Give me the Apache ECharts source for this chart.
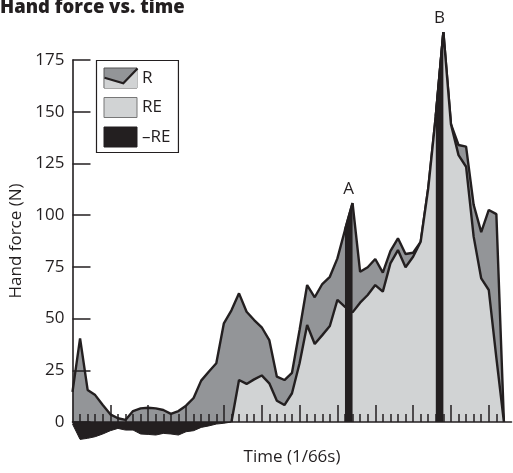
<!DOCTYPE html>
<html><head><meta charset="utf-8">
<script src="https://cdn.jsdelivr.net/npm/echarts@6/dist/echarts.min.js"></script>
<style>html,body{margin:0;padding:0;background:#fff}#c{width:513px;height:473px}</style>
</head><body><div id="c"></div>
<script>
// Time step index = array position (units of 1/66 s)
const R = [14.6, 40.4, 15.5, 13, 8.2, 3.7, 1.8, 1, 5.3, 6.6, 6.9, 6.6, 5.8, 3.9, 5.3, 7.9, 11.6, 20, 24.3, 28.4,
  47.7, 54, 62.2, 53.3, 49.3, 45.8, 39.6, 21.9, 20.3, 23.8, 44.5, 66.2, 60.3, 66.7, 70.2, 79.1, 92.8, 105.8, 72.6, 74.8,
  78.8, 72.2, 82.6, 88.8, 81.2, 81.8, 87.1, 113, 148, 188.5, 144, 133.9, 133.1, 105, 91.8, 102.5, 100.5, 0];
const RE = [null, null, null, null, null, null, null, null, null, null, null, null, null, null, null, null, null, null, null, null,
  null, 0, 20.3, 18.4, 20.6, 22.5, 18.7, 10.3, 8.2, 13.9, 28.4, 46.9, 37.7, 42, 46.4, 59, 55.7, 53, 57.7, 61.4,
  66.2, 63, 76.7, 83.1, 74.8, 79.9, 87.1, 113, 148, 188.5, 144, 129, 123.4, 89.6, 69.4, 63.8, 31, 0];
const negRE = [-1, -8.4, -7.9, -7.1, -5.8, -4.2, -3.1, -3.9, -3.9, -5.8, -6, -6.3, -5.5, -5.8, -6.3, -4.7, -4.2, -2.6, -1.9, -1,
  -0.6, 0];
const yTicks = [0, 25, 50, 75, 100, 125, 150, 175];
const majorTicks = [5, 10, 15, 20, 25, 30, 35, 40, 45, 50, 55];
const minorTicks = [1, 2, 3, 4, 6, 7, 8, 9, 11, 12, 13, 14, 16, 17, 18, 19, 21, 22, 23, 24, 26, 27, 28, 29,
  31, 32, 33, 34, 36, 37, 38, 39, 41, 42, 43, 44, 46, 47, 48, 49, 51, 52, 53, 54, 56];
const markerNames = ['A', 'B'];
const markerStarts = [36, 48];
const seriesNames = ['R', 'RE', '–RE'];

const INK = '#231f20', DARK = '#939598', LIGHT = '#d1d3d4';
const FONT = 'Open Sans';
const toPairs = arr => arr.map((v, i) => [i, v == null ? '-' : v]).filter(p => p[1] !== '-');

const markerSeries = markerNames.map((nm, j) => {
  const s = markerStarts[j];
  return {
    type: 'line', name: 'marker' + nm, data: [[s, R[s]], [s + 1, R[s + 1]]],
    showSymbol: false, symbol: 'none', clip: false, z: 5,
    lineStyle: { color: INK, width: 2.4 }, areaStyle: { color: INK, opacity: 1 },
    endLabel: { show: true, formatter: nm, position: 'top', distance: 0, offset: [-4, -14], color: INK,
      fontFamily: FONT, fontSize: 17, align: 'center' },
    silent: true
  };
});

const chart = echarts.init(document.getElementById('c'), null, { renderer: 'canvas' });
chart.setOption({
  animation: false,
  backgroundColor: '#fff',
  title: { text: 'Hand force vs. time', left: 0, top: -2, padding: 0,
    textStyle: { fontFamily: FONT, fontWeight: 800, fontSize: 18.5, color: INK } },
  grid: { left: 72.5, right: 1.5, top: 60, bottom: 51, outerBoundsMode: 'none' },
  legend: {
    orient: 'vertical', left: 96.5, top: 60.5, padding: [7, 8, 5, 7],
    itemWidth: 33, itemHeight: 20, itemGap: 8.5, selectedMode: false, z: 20,
    borderColor: INK, borderWidth: 1.2,
    textStyle: { fontFamily: FONT, fontSize: 17, color: INK },
    data: [
      { name: seriesNames[0], icon: 'rect', itemStyle: { color: DARK, borderColor: '#555', borderWidth: 1 } },
      { name: seriesNames[1], icon: 'rect', itemStyle: { color: LIGHT, borderColor: '#777', borderWidth: 1 } },
      { name: seriesNames[2], icon: 'rect', itemStyle: { color: INK, borderColor: INK, borderWidth: 1 } }
    ]
  },
  graphic: [
    { type: 'polygon', z: 100, shape: { points: [[104.5, 77.7], [123.3, 83.3], [137.5, 68.5], [137.5, 88], [104.5, 88]] },
      style: { fill: LIGHT } },
    { type: 'polyline', z: 101, shape: { points: [[104.5, 77.7], [123.3, 83.3], [137.5, 68.5]] },
      style: { stroke: INK, lineWidth: 2.2, fill: null } }
  ],
  xAxis: [
    { type: 'value', min: 0, max: 58, name: 'Time (1/66s)', nameLocation: 'middle', nameGap: 27, z: 10,
      nameTextStyle: { fontFamily: FONT, fontSize: 17, color: INK },
      axisLine: { show: true, onZero: false, lineStyle: { color: INK, width: 1.6 } },
      axisTick: { show: true, inside: true, length: 17, customValues: majorTicks, lineStyle: { color: INK, width: 1.5 } },
      axisLabel: { show: false }, splitLine: { show: false } },
    { type: 'value', min: 0, max: 58, position: 'bottom', offset: 0, z: 10,
      axisLine: { show: false },
      axisTick: { show: true, inside: true, length: 8, customValues: minorTicks, lineStyle: { color: INK, width: 1.5 } },
      axisLabel: { show: false }, splitLine: { show: false } }
  ],
  yAxis: {
    type: 'value', min: 0, max: 175, interval: 25, name: 'Hand force (N)', nameLocation: 'middle', nameGap: 45, z: 10,
    nameTextStyle: { fontFamily: FONT, fontSize: 17, color: INK },
    axisLine: { show: true, onZero: false, lineStyle: { color: INK, width: 1.6 } },
    axisTick: { show: true, inside: true, length: 18, lineStyle: { color: INK, width: 1.5 } },
    axisLabel: { margin: 8, fontFamily: FONT, fontSize: 17, color: INK,
      customValues: yTicks },
    splitLine: { show: false }
  },
  series: [
    { type: 'line', name: seriesNames[0], data: toPairs(R), showSymbol: false, symbol: 'none', clip: false, z: 2,
      itemStyle: { color: DARK }, lineStyle: { color: INK, width: 2.4 }, areaStyle: { color: DARK, opacity: 1 } },
    { type: 'line', name: seriesNames[1], data: toPairs(RE), showSymbol: false, symbol: 'none', clip: false, z: 3,
      itemStyle: { color: LIGHT }, lineStyle: { color: INK, width: 2.4 }, areaStyle: { color: LIGHT, opacity: 1 } },
    { type: 'line', name: seriesNames[2], data: toPairs(negRE), showSymbol: false, symbol: 'none', clip: false, z: 4,
      itemStyle: { color: INK }, lineStyle: { color: INK, width: 1 }, areaStyle: { color: INK, opacity: 1 } },
    ...markerSeries
  ]
});
</script></body></html>
